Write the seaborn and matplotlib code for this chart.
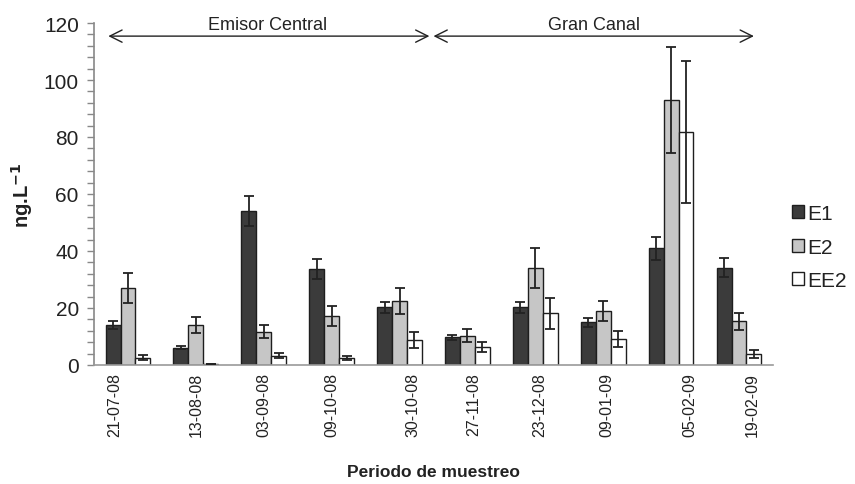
import numpy as np
import pandas as pd
import matplotlib
matplotlib.use("Agg")
import matplotlib.pyplot as plt
from matplotlib.ticker import MultipleLocator
import seaborn as sns

# ---- data ----
fechas = ["21-07-08", "13-08-08", "03-09-08", "09-10-08", "30-10-08",
          "27-11-08", "23-12-08", "09-01-09", "05-02-09", "19-02-09"]
compuestos = ["E1", "E2", "EE2"]
e1 = [14.0, 6.1, 54.0, 33.6, 20.2, 9.7, 20.2, 15.0, 40.9, 34.1]
e2 = [27.0, 14.0, 11.7, 17.2, 22.5, 10.3, 34.1, 18.9, 93.0, 15.3]
ee2 = [2.6, 0.3, 3.3, 2.3, 8.9, 6.3, 18.1, 9.0, 81.8, 3.9]
e1_err = [1.3, 0.4, 5.4, 3.5, 1.8, 0.9, 1.8, 1.5, 4.0, 3.4]
e2_err = [5.3, 2.9, 2.3, 3.4, 4.6, 2.3, 7.0, 3.6, 18.6, 2.9]
ee2_err = [0.8, 0.0, 0.9, 0.7, 2.8, 1.9, 5.3, 2.8, 24.9, 1.5]
tramos = ["Emisor Central", "Gran Canal"]

# ---- layout (not data) ----
label_offsets = [-0.19, 0.0, 0.0, 0.0, 0.2, 0.09, 0.07, 0.06, 0.28, 0.2]
colors = ["#3b3b3b", "#c6c6c6", "#ffffff"]

values = {"E1": e1, "E2": e2, "EE2": ee2}
errors = {"E1": e1_err, "E2": e2_err, "EE2": ee2_err}
rows = []
for c in compuestos:
    for f, v in zip(fechas, values[c]):
        rows.append({"fecha": f, "compuesto": c, "valor": v})
df = pd.DataFrame(rows)

sns.set_style("white")
plt.rcParams["font.family"] = ["Liberation Sans", "DejaVu Sans"]

fig = plt.figure(figsize=(8.55, 4.85), dpi=100)
ax = fig.add_axes([0.110, 0.2454, 0.794, 0.7051])

sns.barplot(data=df, x="fecha", y="valor", hue="compuesto", order=fechas,
            hue_order=compuestos, palette=colors, edgecolor="#1e1e1e",
            linewidth=1.0, width=0.66, gap=0, errorbar=None, ax=ax)

for cont, c in zip(ax.containers, compuestos):
    xs = [p.get_x() + p.get_width() / 2 for p in cont.patches]
    hs = [p.get_height() for p in cont.patches]
    ax.errorbar(xs, hs, yerr=errors[c], fmt="none", ecolor="#222222",
                elinewidth=1.3, capsize=3.5, capthick=1.3, zorder=5)

ax.set_xlim(-0.5, 9.5)
ax.set_ylim(0, 120)
ax.yaxis.set_major_locator(MultipleLocator(20))
ax.yaxis.set_minor_locator(MultipleLocator(4))
ax.tick_params(axis="y", which="both", left=True, direction="out",
               length=5, width=1, color="#888888", labelsize=15,
               labelcolor="#222222", pad=6)
ax.set_xticks(np.arange(len(fechas)) + np.array(label_offsets))
ax.set_xticklabels(fechas, rotation=90, fontsize=11.5, color="#222222")
ax.tick_params(axis="x", length=0, pad=5)

for s in ["top", "right"]:
    ax.spines[s].set_visible(False)
ax.spines["left"].set_color("#888888")
ax.spines["bottom"].set_color("#999999")
ax.spines["left"].set_linewidth(1.2)
ax.spines["bottom"].set_linewidth(1.2)

ax.set_ylabel("ng.L$^{\\mathbf{-1}}$", fontsize=14.5, fontweight="bold",
              color="#222222", labelpad=6)
ax.set_xlabel("Periodo de muestreo", fontsize=12.5, fontweight="bold",
              color="#222222", labelpad=20)

# section arrows
arrow_kw = dict(arrowstyle="<->", color="#222222", lw=1.0, mutation_scale=22,
                shrinkA=0, shrinkB=0)
ax.annotate("", xy=(4.44, 115.4), xytext=(-0.29, 115.4),
            arrowprops=arrow_kw, annotation_clip=False)
ax.annotate("", xy=(9.22, 115.4), xytext=(4.5, 115.4),
            arrowprops=arrow_kw, annotation_clip=False)
ax.text(2.05, 119.6, tramos[0], ha="center", va="center", fontsize=13,
        color="#222222")
ax.text(6.86, 119.6, tramos[1], ha="center", va="center", fontsize=13,
        color="#222222")

leg = ax.legend(loc="center left", bbox_to_anchor=(1.0, 0.345),
                frameon=False, fontsize=15, handlelength=0.6,
                handleheight=0.6, handletextpad=0.15, labelspacing=0.7,
                title=None)
for t in leg.get_texts():
    t.set_color("#222222")

fig.savefig("out.png", dpi=100)
